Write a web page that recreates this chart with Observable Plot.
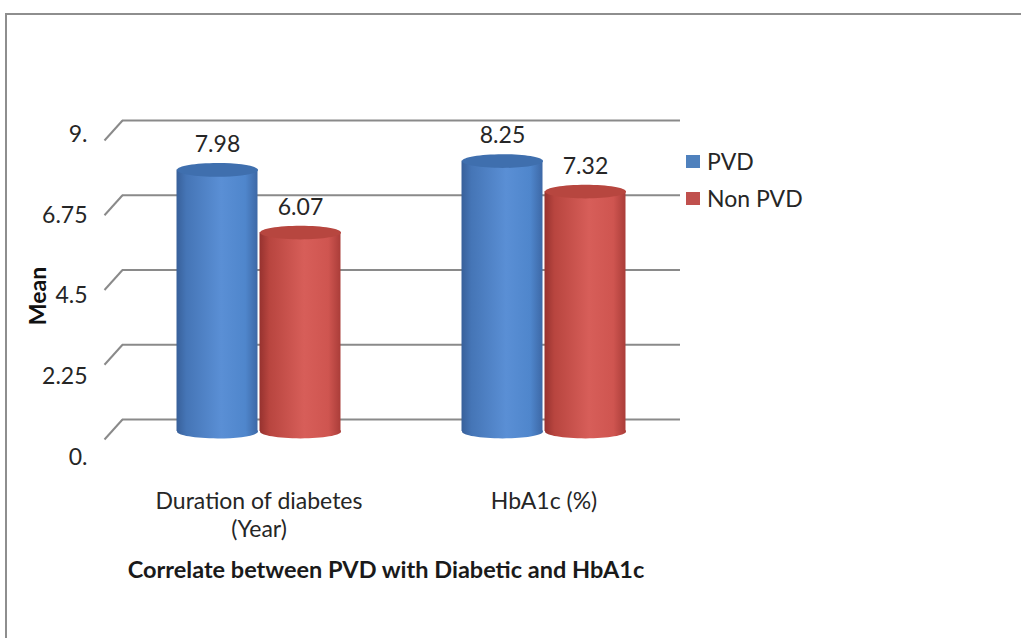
<!DOCTYPE html>
<html>
<head>
<meta charset="utf-8">
<script src="https://cdn.jsdelivr.net/npm/d3@7"></script>
<script src="https://cdn.jsdelivr.net/npm/@observablehq/plot@0.6"></script>
<style>
  html, body { margin: 0; padding: 0; background: #fff; overflow: hidden; }
  #wrap { position: relative; width: 1021px; height: 638px; overflow: hidden; font-family: Lato, "Open Sans", sans-serif; color: #262626; }
  #frame { position: absolute; left: 5px; top: 13px; width: 1100px; height: 700px; border: 2px solid #8e8e8e; box-sizing: border-box; }
  .layer { position: absolute; left: 0; top: 0; }
  #title { position: absolute; left: 0; width: 772px; top: 555px; line-height: 28px; text-align: center; font-weight: bold; font-size: 23.5px; color: #1a1a1a; }
  .leg { position: absolute; left: 686px; display: flex; align-items: center; font-size: 23px; line-height: 26px; }
  .sw { width: 14px; height: 13px; margin-right: 7px; }
</style>
</head>
<body>
<div id="wrap">
  <div id="frame"></div>
  <div id="title"></div>
</div>
<script>
// ---- data ----
const categories = ["Duration of diabetes", "HbA1c (%)"];
const categoryLabels = ["Duration of diabetes\n(Year)", "HbA1c (%)"];
const series = ["PVD", "Non PVD"];
const pvdValues = [7.98, 8.25];
const nonPvdValues = [6.07, 7.32];
const yTicks = [0, 2.25, 4.5, 6.75, 9];
const yTickLabels = ["0.", "2.25", "4.5", "6.75", "9."];
const seriesColors = ["#4f81bd", "#c0504d"];
const seriesTopColors = ["#3f6fae", "#b7463f"];
const titleText = "Correlate between PVD with Diabetic and HbA1c";
const yLabel = "Mean";

const data = categories.flatMap((c, i) => [
  {category: c, series: series[0], value: pvdValues[i]},
  {category: c, series: series[1], value: nonPvdValues[i]}
]);

const wrap = document.getElementById("wrap");
document.getElementById("title").textContent = titleText;

const W = 1021, H = 638;
const font = {fontFamily: "Lato, 'Open Sans', sans-serif", fontSize: "23px", color: "#262626", background: "transparent", overflow: "visible"};

// ---- back wall: gridlines + perspective edges ----
const slash = {draw(ctx) { ctx.moveTo(-9, 10); ctx.lineTo(9, -10); }};
const grid = Plot.plot({
  width: W, height: H,
  marginTop: 120, marginBottom: H - 419, marginLeft: 122, marginRight: W - 680,
  y: {domain: [0, 9], axis: null},
  style: font,
  marks: [
    Plot.ruleY(yTicks, {stroke: "#8a8a8a", strokeWidth: 2}),
    Plot.dot(yTicks, {y: d => d, frameAnchor: "left", symbol: slash, r: 5, stroke: "#8a8a8a", strokeWidth: 2, dx: -9, dy: 10})
  ]
});
grid.classList.add("layer");
wrap.appendChild(grid);

// ---- axis tick labels + axis title ----
const axis = Plot.plot({
  width: W, height: H,
  marginTop: 134, marginBottom: H - 457, marginLeft: 87, marginRight: W - 97,
  y: {domain: [0, 9]},
  style: font,
  marks: [
    Plot.axisY(yTicks, {anchor: "left", tickSize: 0, tickPadding: 0, label: null, fontSize: 23, fill: "#262626",
      tickFormat: d => yTickLabels[yTicks.indexOf(d)]}),
    Plot.text([yLabel], {frameAnchor: "left", textAnchor: "middle", rotate: -90, dx: -49, fontWeight: "bold", fontSize: 23, fill: "#111"})
  ]
});
axis.classList.add("layer");
wrap.appendChild(axis);

// ---- cylinders ----
const ellipse = {draw(ctx, size) {
  const rx = Math.sqrt(size / Math.PI), ry = rx * 0.17, k = 0.5523;
  ctx.moveTo(rx, 0);
  ctx.bezierCurveTo(rx, k * ry, k * rx, ry, 0, ry);
  ctx.bezierCurveTo(-k * rx, ry, -rx, k * ry, -rx, 0);
  ctx.bezierCurveTo(-rx, -k * ry, -k * rx, -ry, 0, -ry);
  ctx.bezierCurveTo(k * rx, -ry, rx, -k * ry, rx, 0);
  ctx.closePath();
}};
const defs = () => {
  const g = document.createElementNS("http://www.w3.org/2000/svg", "defs");
  g.innerHTML = `
    <linearGradient id="gradPVD" x1="0" x2="1" y1="0" y2="0">
      <stop offset="0" stop-color="#38609a"/>
      <stop offset="0.12" stop-color="#4575b6"/>
      <stop offset="0.55" stop-color="#5a8fd5"/>
      <stop offset="0.85" stop-color="#4f86cc"/>
      <stop offset="1" stop-color="#3d68a6"/>
    </linearGradient>
    <linearGradient id="gradNon" x1="0" x2="1" y1="0" y2="0">
      <stop offset="0" stop-color="#96322f"/>
      <stop offset="0.12" stop-color="#b8453f"/>
      <stop offset="0.55" stop-color="#d75e59"/>
      <stop offset="0.85" stop-color="#cf5550"/>
      <stop offset="1" stop-color="#aa3d39"/>
    </linearGradient>`;
  return g;
};
const bars = Plot.plot({
  width: W, height: H,
  marginTop: 136, marginBottom: H - 431, marginLeft: 115.5, marginRight: W - 685.5,
  fx: {domain: categories, padding: 0, label: null},
  x: {domain: series, paddingInner: 0.024, paddingOuter: 0.729, round: false, axis: null},
  y: {domain: [0, 9], axis: null},
  color: {domain: series, range: ["url(#gradPVD)", "url(#gradNon)"]},
  style: font,
  marks: [
    defs,
    Plot.dot(data, {fx: "category", x: "series", y: 0, fill: "series", r: 40.5, symbol: ellipse, stroke: "none"}),
    Plot.barY(data, {fx: "category", x: "series", y: "value", fill: "series"}),
    ...series.map((s, i) => Plot.dot(data.filter(d => d.series === s),
      {fx: "category", x: "series", y: "value", fill: seriesTopColors[i], r: 40.5, symbol: ellipse, stroke: "none"})),
    Plot.text(data, {fx: "category", x: "series", y: "value", text: d => d.value.toFixed(2), dy: -25, fontSize: 23, fill: "#262626"}),
    Plot.axisFx({anchor: "bottom", tickSize: 0, tickPadding: 58, label: null, fontSize: 23, lineHeight: 1.2, fill: "#262626",
       tickFormat: d => categoryLabels[categories.indexOf(d)]})
  ]
});
bars.classList.add("layer");
wrap.appendChild(bars);

// ---- legend ----
series.forEach((s, i) => {
  const item = document.createElement("div");
  item.className = "leg";
  item.style.top = (148 + i * 37) + "px";
  const sw = document.createElement("div");
  sw.className = "sw";
  sw.style.background = seriesColors[i];
  const t = document.createElement("span");
  t.textContent = s;
  item.appendChild(sw); item.appendChild(t);
  wrap.appendChild(item);
});
</script>
</body>
</html>
